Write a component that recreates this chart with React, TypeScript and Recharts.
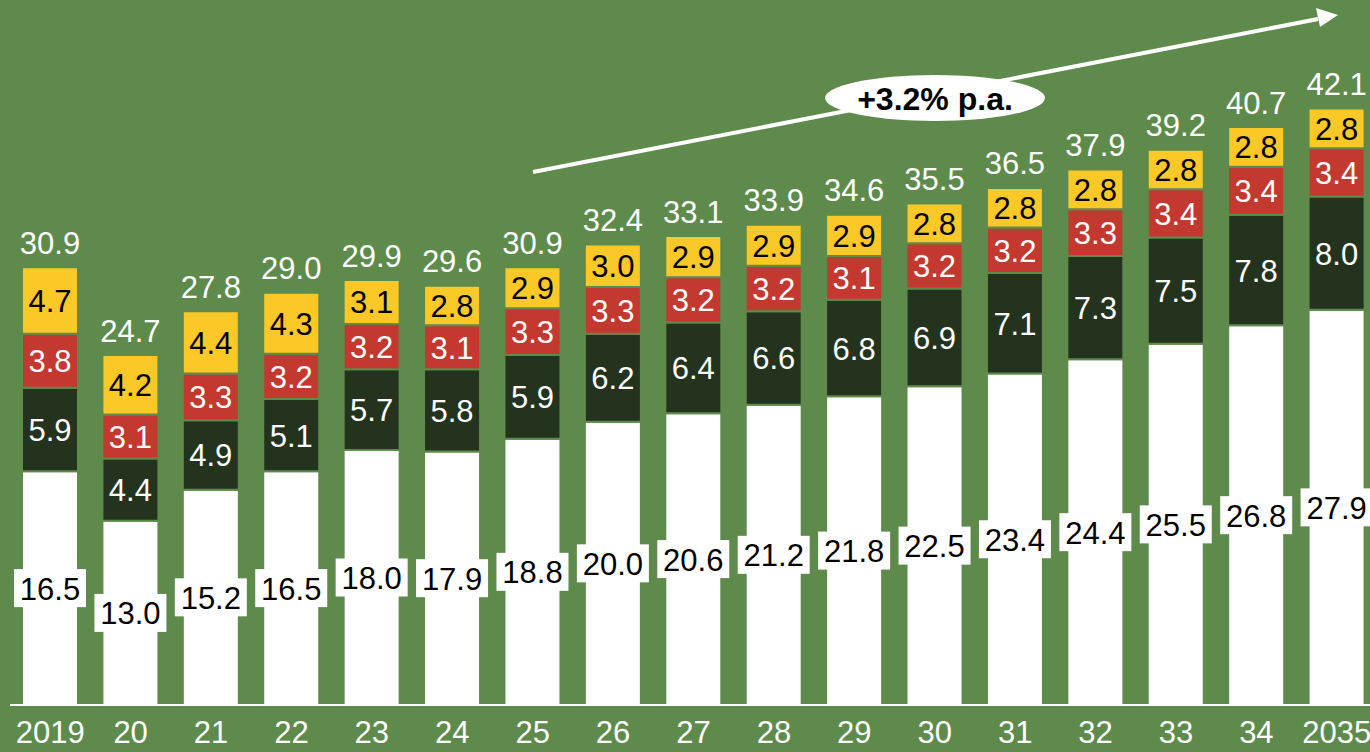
import { BarChart, Bar, XAxis, YAxis, LabelList } from "recharts";

const years = ["2019", "20", "21", "22", "23", "24", "25", "26", "27", "28", "29", "30", "31", "32", "33", "34", "2035"];
const baseValues = [16.5, 13.0, 15.2, 16.5, 18.0, 17.9, 18.8, 20.0, 20.6, 21.2, 21.8, 22.5, 23.4, 24.4, 25.5, 26.8, 27.9];
const darkValues = [5.9, 4.4, 4.9, 5.1, 5.7, 5.8, 5.9, 6.2, 6.4, 6.6, 6.8, 6.9, 7.1, 7.3, 7.5, 7.8, 8.0];
const redValues = [3.8, 3.1, 3.3, 3.2, 3.2, 3.1, 3.3, 3.3, 3.2, 3.2, 3.1, 3.2, 3.2, 3.3, 3.4, 3.4, 3.4];
const yellowValues = [4.7, 4.2, 4.4, 4.3, 3.1, 2.8, 2.9, 3.0, 2.9, 2.9, 2.9, 2.8, 2.8, 2.8, 2.8, 2.8, 2.8];
const totals = [30.9, 24.7, 27.8, 29.0, 29.9, 29.6, 30.9, 32.4, 33.1, 33.9, 34.6, 35.5, 36.5, 37.9, 39.2, 40.7, 42.1];
const growthLabel = "+3.2% p.a.";

const BG = "#5e8b4b";
const FONT = "'Liberation Sans', Arial, sans-serif";

const data = years.map((year, i) => ({
  year,
  base: baseValues[i],
  dark: darkValues[i],
  red: redValues[i],
  yellow: yellowValues[i],
  total: totals[i],
}));

const fmt = (v: number) => v.toFixed(1);

// white box label for the bottom segment
const BoxLabel = (props: any) => {
  const { x, y, width, height, value } = props;
  const cx = x + width / 2;
  const cy = y + height / 2;
  return (
    <g>
      <rect x={cx - 36} y={cy - 19} width={72} height={38} fill="#ffffff" />
      <text x={cx} y={cy + 1} textAnchor="middle" dominantBaseline="central" fontSize={31} fontFamily={FONT} fill="#000">
        {fmt(value)}
      </text>
    </g>
  );
};

const makeCenterLabel = (color: string) => (props: any) => {
  const { x, y, width, height, value } = props;
  return (
    <text x={x + width / 2} y={y + height / 2 + 1} textAnchor="middle" dominantBaseline="central" fontSize={31} fontFamily={FONT} fill={color}>
      {fmt(value)}
    </text>
  );
};

const TotalLabel = (props: any) => {
  const { x, y, width, index } = props;
  return (
    <text x={x + width / 2} y={y - 24} textAnchor="middle" dominantBaseline="central" fontSize={31} fontFamily={FONT} fill="#ffffff">
      {fmt(totals[index])}
    </text>
  );
};

const App = () => {
  return (
    <div style={{ position: "absolute", left: 0, top: 0, width: 1370, height: 752, background: BG, overflow: "hidden" }}>
      <BarChart
        width={1380}
        height={752}
        data={data}
        margin={{ top: 25, right: 3, bottom: 0, left: 10 }}
        barSize={56}
      >
        <XAxis
          dataKey="year"
          axisLine={{ stroke: "#ffffff", strokeWidth: 2 }}
          tickLine={false}
          interval={0}
          tick={{ fill: "#ffffff", fontSize: 31, fontFamily: FONT }}
          tickMargin={10}
          height={47}
        />
        <YAxis hide domain={[0, 48]} />
        <Bar dataKey="base" stackId="a" fill="#ffffff" stroke={BG} strokeWidth={2} isAnimationActive={false}>
          <LabelList dataKey="base" content={BoxLabel} />
        </Bar>
        <Bar dataKey="dark" stackId="a" fill="#24331e" stroke={BG} strokeWidth={2} isAnimationActive={false}>
          <LabelList dataKey="dark" content={makeCenterLabel("#ffffff")} />
        </Bar>
        <Bar dataKey="red" stackId="a" fill="#c4392f" stroke={BG} strokeWidth={2} isAnimationActive={false}>
          <LabelList dataKey="red" content={makeCenterLabel("#ffffff")} />
        </Bar>
        <Bar dataKey="yellow" stackId="a" fill="#fac827" stroke={BG} strokeWidth={2} isAnimationActive={false}>
          <LabelList dataKey="yellow" content={makeCenterLabel("#000000")} />
          <LabelList dataKey="total" content={TotalLabel} />
        </Bar>
      </BarChart>
      <svg width={1370} height={752} style={{ position: "absolute", left: 0, top: 0, pointerEvents: "none" }}>
        <line x1={533} y1={172} x2={1318} y2={19} stroke="#ffffff" strokeWidth={4} />
        <polygon points="1338,15 1316,8 1320,27" fill="#ffffff" />
        <ellipse cx={935} cy={98} rx={110} ry={23} fill="#ffffff" />
        <text x={935} y={99} textAnchor="middle" dominantBaseline="central" fontSize={32} fontWeight="bold" fontFamily={FONT} fill="#000">
          {growthLabel}
        </text>
      </svg>
    </div>
  );
};

export default App;
